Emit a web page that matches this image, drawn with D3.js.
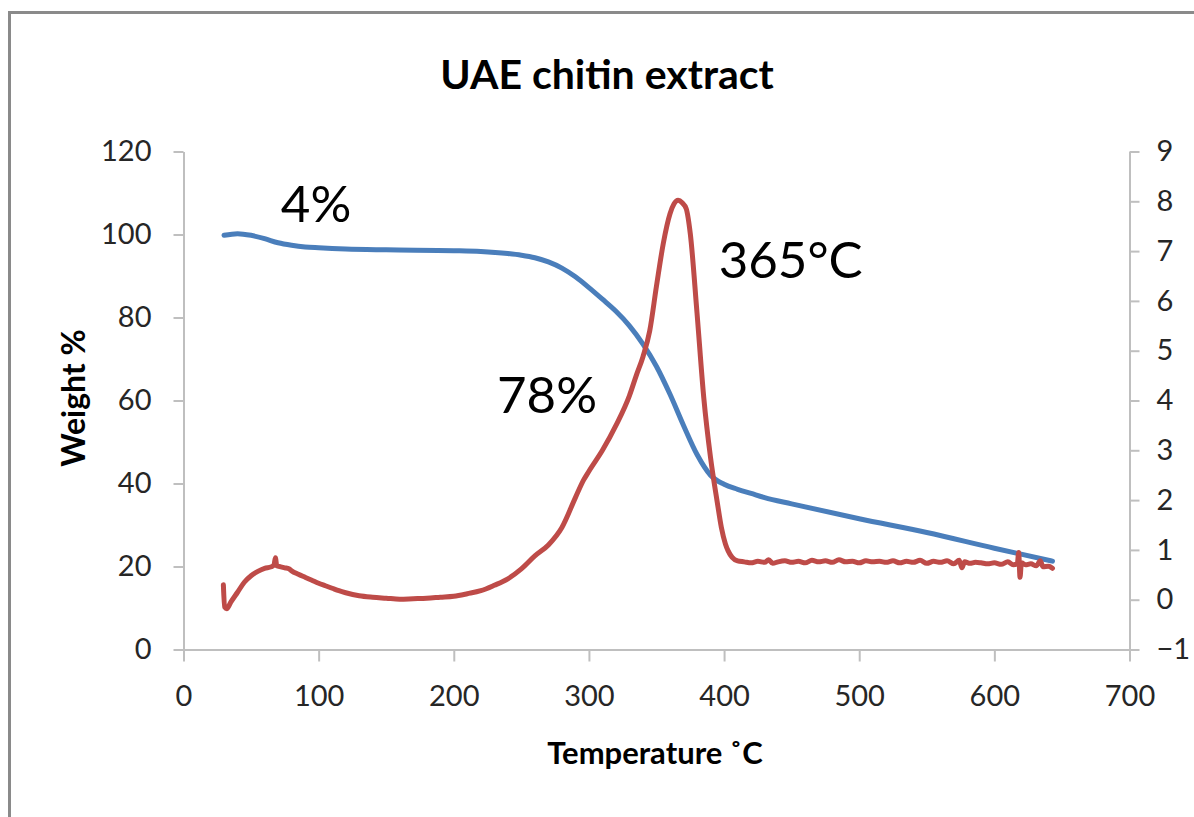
<!DOCTYPE html>
<html>
<head>
<meta charset="utf-8">
<script src="https://cdn.jsdelivr.net/npm/d3@7"></script>
<style>
  html, body { margin: 0; padding: 0; background: #fff; }
  svg { display: block; }
  text { font-family: Lato, "Open Sans", "Liberation Sans", sans-serif; fill: #262626; }
</style>
</head>
<body>
<svg id="chart" width="1194" height="817"></svg>
<script>
// ---------- data ----------
const chartTitle = "UAE chitin extract";
const xTitle = "Temperature ˚C";
const yTitle = "Weight %";

const xTicks = [0, 100, 200, 300, 400, 500, 600, 700];
const yLeftTicks = [0, 20, 40, 60, 80, 100, 120];
const yRightTicks = [-1, 0, 1, 2, 3, 4, 5, 6, 7, 8, 9];

// TGA weight curve (left axis)
const weightTemp = [30, 40, 50, 60, 70, 80, 90, 100, 120, 150, 200, 220, 240, 250, 260, 270, 280, 290, 300, 310, 320, 330, 340, 350, 360, 370, 380, 390, 400, 410, 420, 430, 450, 500, 550, 600, 643];
const weightPct  = [99.8, 100.2, 99.8, 99.0, 98.0, 97.4, 97.0, 96.8, 96.5, 96.3, 96.1, 95.9, 95.4, 95.0, 94.4, 93.4, 91.9, 89.8, 87.2, 84.4, 81.5, 78.0, 73.6, 68.2, 61.5, 54.0, 47.0, 42.0, 39.8, 38.6, 37.6, 36.6, 35.1, 31.5, 28.2, 24.4, 21.3];

// DTG curve (right axis)
const dtgTemp = [29.5, 30.5, 32, 35, 40, 45, 50, 55, 60, 65, 67, 68, 69, 72, 75, 78, 80, 85, 90, 95, 100, 105, 110, 115, 120, 130, 140, 150, 160, 170, 180, 190, 200, 210, 220, 230, 240, 250, 260, 270, 280, 290, 296, 300, 310, 320, 330, 335, 340, 345, 350, 355, 360, 363, 366, 369, 372, 375, 380, 385, 390, 395, 398, 401, 403, 406, 410,
  415, 420, 425, 430, 433, 436, 440, 445, 450, 455, 460, 465, 470, 475, 480, 485, 490, 495, 500, 505, 510, 515, 520, 525, 530, 535, 540, 545, 550, 555, 560, 565, 570, 574, 576, 578, 582, 586, 590, 595, 600, 605, 610, 614, 617, 618, 619, 620, 623, 627, 631, 634, 636, 640, 643];
const dtgValue = [0.30, -0.15, -0.18, -0.05, 0.15, 0.35, 0.48, 0.57, 0.63, 0.66, 0.70, 0.84, 0.68, 0.66, 0.64, 0.62, 0.58, 0.51, 0.45, 0.39, 0.33, 0.28, 0.23, 0.18, 0.14, 0.08, 0.05, 0.03, 0.01, 0.02, 0.03, 0.05, 0.07, 0.12, 0.18, 0.29, 0.42, 0.62, 0.88, 1.10, 1.45, 2.05, 2.40, 2.58, 3.00, 3.50, 4.10, 4.50, 4.88, 5.40, 6.30, 7.15, 7.75, 7.95, 8.02, 7.97, 7.85, 7.35, 5.75, 4.05, 2.85, 1.95, 1.45, 1.12, 0.98, 0.85, 0.78,
  0.76, 0.74, 0.77, 0.75, 0.80, 0.73, 0.76, 0.78, 0.75, 0.77, 0.74, 0.79, 0.76, 0.78, 0.75, 0.80, 0.76, 0.77, 0.74, 0.78, 0.76, 0.77, 0.75, 0.78, 0.74, 0.77, 0.75, 0.79, 0.73, 0.77, 0.75, 0.78, 0.72, 0.79, 0.64, 0.76, 0.73, 0.75, 0.74, 0.72, 0.74, 0.71, 0.76, 0.70, 0.72, 0.95, 0.45, 0.74, 0.70, 0.72, 0.68, 0.78, 0.66, 0.67, 0.63];

const annotations = [
  { text: "4%", t: 72, v: 103 },
  { text: "78%", t: 232, v: 57 },
  { text: "365°C", t: 396, v: 89.5 }
];

// ---------- drawing ----------
const svg = d3.select("#chart");
const axisColor = "#bfbfbf";

const x = d3.scaleLinear().domain([0, 700]).range([183.5, 1129.5]);
const yL = d3.scaleLinear().domain([0, 120]).range([649.5, 151.5]);
const yR = d3.scaleLinear().domain([-1, 9]).range([649.5, 151.5]);

// outer frame (top and left visible)
svg.append("path")
  .attr("d", "M9.5,817 L9.5,12.5 L1194,12.5")
  .attr("fill", "none").attr("stroke", "#8a8a8a").attr("stroke-width", 3);

// title
svg.append("text").attr("x", 607).attr("y", 89)
  .attr("text-anchor", "middle").attr("font-weight", "bold").attr("font-size", 41)
  .style("fill", "#000").text(chartTitle);

function styleAxis(g) {
  g.select(".domain").attr("stroke", axisColor).attr("stroke-width", 2);
  g.selectAll(".tick line").attr("stroke", axisColor).attr("stroke-width", 2);
  g.selectAll(".tick text").attr("font-size", 29).style("fill", "#262626")
    .attr("font-family", "Lato, 'Open Sans', sans-serif");
}

// left axis
svg.append("g").attr("transform", `translate(${x(0)},0)`)
  .call(d3.axisLeft(yL).tickValues(yLeftTicks).tickSize(10).tickSizeOuter(0).tickPadding(22))
  .call(styleAxis);

// right axis
svg.append("g").attr("transform", `translate(${x(700)},0)`)
  .call(d3.axisRight(yR).tickValues(yRightTicks).tickSize(10).tickSizeOuter(0).tickPadding(17))
  .call(styleAxis);

// bottom axis
svg.append("g").attr("transform", `translate(0,${yL(0)})`)
  .call(d3.axisBottom(x).tickValues(xTicks).tickSize(12).tickSizeOuter(0).tickPadding(24))
  .call(styleAxis);

// axis titles
svg.append("text").attr("x", 655).attr("y", 764)
  .attr("text-anchor", "middle").attr("font-weight", "bold").attr("font-size", 31)
  .style("fill", "#000").text(xTitle);
svg.append("text").attr("transform", "translate(85,398) rotate(-90)")
  .attr("text-anchor", "middle").attr("font-weight", "bold").attr("font-size", 32)
  .style("fill", "#000").text(yTitle);

// series
const weightData = weightTemp.map((t, i) => [t, weightPct[i]]);
const dtgData = dtgTemp.map((t, i) => [t, dtgValue[i]]);

svg.append("path").datum(weightData)
  .attr("fill", "none").attr("stroke", "#4a7ebb").attr("stroke-width", 5)
  .attr("stroke-linejoin", "round").attr("stroke-linecap", "round")
  .attr("d", d3.line().x(d => x(d[0])).y(d => yL(d[1])).curve(d3.curveMonotoneX));

svg.append("path").datum(dtgData)
  .attr("fill", "none").attr("stroke", "#be4b48").attr("stroke-width", 5)
  .attr("stroke-linejoin", "round").attr("stroke-linecap", "round")
  .attr("d", d3.line().x(d => x(d[0])).y(d => yR(d[1])).curve(d3.curveMonotoneX));

// annotations
svg.selectAll("text.ann").data(annotations).join("text")
  .attr("class", "ann")
  .attr("x", d => x(d.t)).attr("y", d => yL(d.v))
  .attr("font-size", 51).style("fill", "#000")
  .text(d => d.text);
</script>
</body>
</html>
